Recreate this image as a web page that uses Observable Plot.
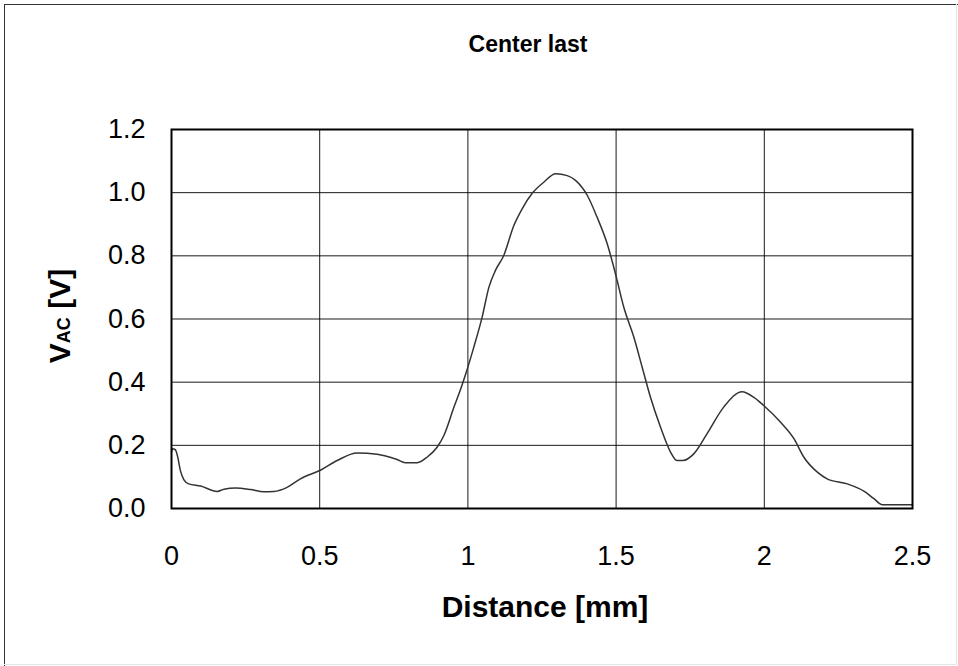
<!DOCTYPE html>
<html>
<head>
<meta charset="utf-8">
<script src="https://cdn.jsdelivr.net/npm/d3@7"></script>
<script src="https://cdn.jsdelivr.net/npm/@observablehq/plot@0.6"></script>
<style>
  html, body { margin: 0; padding: 0; background: #fff; }
  #chart { position: relative; width: 958px; height: 666px; }
  svg { display: block; }
</style>
</head>
<body>
<div id="chart"></div>
<script>
const title = "Center last";
const xLabel = "Distance [mm]";
const xTicks = [0, 0.5, 1, 1.5, 2, 2.5];
const xTickLabels = ["0", "0.5", "1", "1.5", "2", "2.5"];
const yTicks = [0, 0.2, 0.4, 0.6, 0.8, 1.0, 1.2];

const distance = [0.000, 0.003, 0.013, 0.021, 0.030, 0.042, 0.058, 0.098, 0.154, 0.177,
  0.216, 0.267, 0.311, 0.345, 0.390, 0.435, 0.504, 0.559, 0.626, 0.694,
  0.761, 0.789, 0.829, 0.863, 0.896, 0.919, 0.953, 0.978, 0.998, 1.020,
  1.048, 1.071, 1.093, 1.121, 1.155, 1.183, 1.217, 1.256, 1.296, 1.335,
  1.363, 1.403, 1.436, 1.470, 1.498, 1.526, 1.560, 1.588, 1.616, 1.650,
  1.684, 1.705, 1.725, 1.762, 1.807, 1.863, 1.925, 1.965, 1.998, 2.055, 2.100,
  2.133, 2.179, 2.212, 2.280, 2.336, 2.370, 2.398, 2.500];
const vac = [0.180, 0.189, 0.186, 0.163, 0.120, 0.091, 0.078, 0.071, 0.054, 0.061,
  0.065, 0.060, 0.053, 0.054, 0.067, 0.094, 0.122, 0.152, 0.176, 0.172,
  0.155, 0.145, 0.145, 0.163, 0.194, 0.231, 0.321, 0.385, 0.442, 0.511,
  0.606, 0.701, 0.754, 0.801, 0.896, 0.949, 0.998, 1.033, 1.060, 1.054,
  1.039, 0.991, 0.922, 0.838, 0.743, 0.637, 0.542, 0.447, 0.352, 0.257,
  0.178, 0.152, 0.152, 0.173, 0.237, 0.321, 0.370, 0.352, 0.326, 0.273, 0.221,
  0.163, 0.115, 0.094, 0.078, 0.055, 0.031, 0.012, 0.012];

const data = distance.map((d, i) => ({x: d, y: vac[i]}));

const W = 958, H = 666;
const chart = Plot.plot({
  width: W,
  height: H,
  marginLeft: 171,
  marginRight: 46,
  marginTop: 129,
  marginBottom: 158,
  style: {fontFamily: "'Liberation Sans', Arial, sans-serif", color: "#000", background: "#fff"},
  x: {domain: [0, 2.5]},
  y: {domain: [0, 1.2]},
  marks: [
    Plot.gridX(xTicks, {stroke: "#000", strokeOpacity: 0.9, strokeWidth: 1}),
    Plot.gridY(yTicks, {stroke: "#000", strokeOpacity: 0.9, strokeWidth: 1}),
    Plot.line(data, {x: "x", y: "y", stroke: "#333", strokeWidth: 1.5, curve: "monotone-x"}),
    Plot.frame({stroke: "#000", strokeWidth: 2}),
    Plot.axisY({ticks: yTicks, tickSize: 0, tickPadding: 26, tickFormat: d => d.toFixed(1), fontSize: 27, label: null}),
    Plot.axisX({ticks: xTicks, tickSize: 0, tickPadding: 37, tickFormat: d => xTickLabels[xTicks.indexOf(d)], fontSize: 27, label: null})
  ]
});
document.getElementById("chart").appendChild(chart);

const svg = d3.select(chart);
// outer chart border
svg.append("line").attr("x1", 4).attr("y1", 4.5).attr("x2", W).attr("y2", 4.5).attr("stroke", "#333").attr("stroke-width", 1);
svg.append("line").attr("x1", 4.5).attr("y1", 4).attr("x2", 4.5).attr("y2", H).attr("stroke", "#333").attr("stroke-width", 1);
svg.append("line").attr("x1", W - 1.5).attr("y1", 4).attr("x2", W - 1.5).attr("y2", H - 1).attr("stroke", "#e6e6e6").attr("stroke-width", 1);
svg.append("line").attr("x1", 4).attr("y1", H - 1.5).attr("x2", W - 1).attr("y2", H - 1.5).attr("stroke", "#e6e6e6").attr("stroke-width", 1);

// title
svg.append("text").attr("x", 528).attr("y", 52).attr("text-anchor", "middle")
  .attr("font-weight", "bold").attr("font-size", 23).attr("fill", "#000").text(title);

// x label
svg.append("text").attr("x", 545).attr("y", 617).attr("text-anchor", "middle")
  .attr("font-weight", "bold").attr("font-size", 30).attr("fill", "#000").text(xLabel);

// y label with subscript
const yl = svg.append("text").attr("transform", "translate(70,316) rotate(-90)")
  .attr("text-anchor", "middle").attr("font-weight", "bold").attr("font-size", 30).attr("fill", "#000");
yl.append("tspan").text("V");
yl.append("tspan").attr("font-size", 18).text("AC");
yl.append("tspan").text(" [V]");
</script>
</body>
</html>
